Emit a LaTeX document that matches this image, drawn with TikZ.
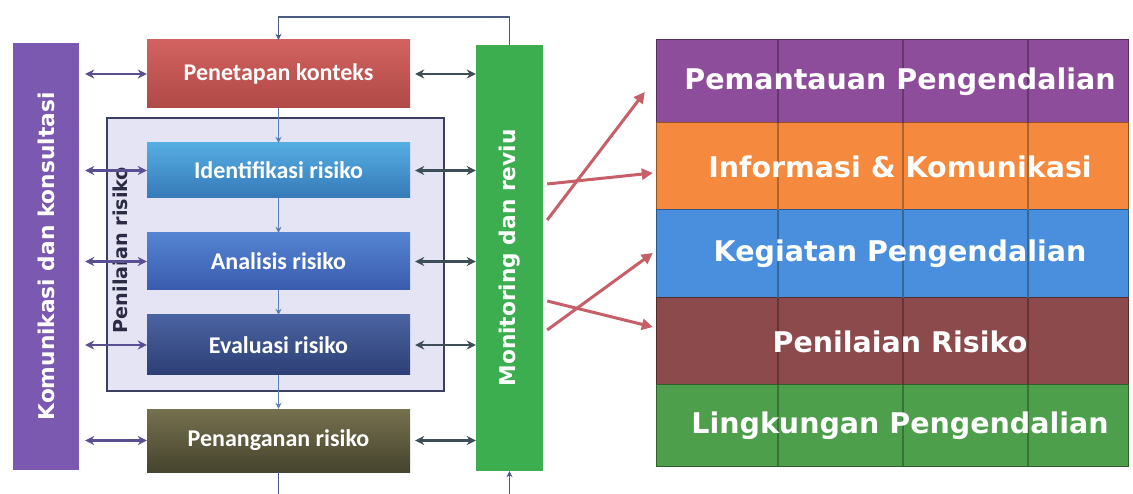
\documentclass[tikz,border=0pt]{standalone}
\usepackage{fontspec}
\setmainfont{Carlito}
\newfontfamily\dejavu{DejaVu Sans}
\usetikzlibrary{arrows.meta,calc}
\pgfdeclarelayer{bandbg}
\pgfdeclarelayer{divlayer}
\pgfsetlayers{bandbg,divlayer,main}
\definecolor{purpbar}{HTML}{7B59B0}
\definecolor{greenbar}{HTML}{3DAE50}
\definecolor{framefill}{HTML}{E4E4F4}
\definecolor{framec}{HTML}{3C4060}
\definecolor{flowc}{HTML}{5B7FB5}
\definecolor{topc}{HTML}{4A5A80}
\definecolor{leftc}{HTML}{5B4F94}
\definecolor{rightc}{HTML}{3E4E58}
\definecolor{redarr}{HTML}{C75F69}
\definecolor{darktext}{HTML}{2B2B45}
\definecolor{bandA}{HTML}{8D4D9A}
\definecolor{bandB}{HTML}{F58A3E}
\definecolor{bandC}{HTML}{4A8FDD}
\definecolor{bandD}{HTML}{8C4A4C}
\definecolor{bandE}{HTML}{4D9F4B}
\definecolor{pkTop}{HTML}{D2625F}
\definecolor{pkBot}{HTML}{B04946}
\definecolor{idTop}{HTML}{55AEE2}
\definecolor{idBot}{HTML}{3579B8}
\definecolor{anTop}{HTML}{5484D2}
\definecolor{anBot}{HTML}{3A5BAE}
\definecolor{evTop}{HTML}{4A63A2}
\definecolor{evBot}{HTML}{2D3F75}
\definecolor{pnTop}{HTML}{75714E}
\definecolor{pnBot}{HTML}{46432E}
\begin{document}
\begin{tikzpicture}[x=1pt,y=-1pt,
  stepbox/.style={draw=none, minimum width=263pt, inner sep=0pt, text=white,
    font=\bfseries\fontsize{24}{28}\selectfont},
  sidebar/.style={rotate=90, minimum width=427pt, minimum height=66pt, inner sep=0pt,
    text=white, font=\dejavu\bfseries\fontsize{21.7}{26}\selectfont},
  linkL/.style={draw=leftc, line width=2.6pt, {Stealth[length=9pt,width=9pt]}-{Stealth[length=9pt,width=9pt]}, shorten <=6pt},
  linkR/.style={draw=rightc, line width=2.6pt, {Stealth[length=9pt,width=9pt]}-{Stealth[length=9pt,width=9pt]}, shorten <=5pt},
  flow/.style={draw=flowc, line width=1.3pt, -{Stealth[length=6pt,width=6pt]}},
  loopline/.style={draw=topc, line width=1.5pt},
  band/.style={minimum width=471pt, inner sep=0pt, text=white,
    font=\dejavu\bfseries\fontsize{28.5}{33}\selectfont, execute at begin node=\hspace*{15pt}},
  divider/.style={draw=#1!72!black, line width=1.8pt},
  redarrow/.style={draw=redarr, line width=3pt, -{Triangle[length=11pt,width=11pt]}}
]
\useasboundingbox (0,0) rectangle (1133,494);
\begin{pgfonlayer}{bandbg}
\fill[white] (0,0) rectangle (1133,494);
\end{pgfonlayer}

% side bars
\node[sidebar, fill=purpbar] (kk) at (46,256.5) {Komunikasi dan konsultasi};
\node[sidebar, fill=greenbar, minimum width=426pt, minimum height=67pt] (mr) at (509.5,258) {Monitoring dan reviu};

% risk assessment frame
\node[draw=framec, fill=framefill, line width=1.2pt, minimum width=337pt, minimum height=273pt, inner sep=0pt] (pr) at (275.5,254.5) {};
\node[rotate=90, text=darktext, font=\dejavu\bfseries\fontsize{19.2}{23}\selectfont] (prt) at (120,250) {Penilaian risiko};

% process boxes
\node[stepbox, minimum height=68pt, top color=pkTop, bottom color=pkBot] (pk) at (278.5,74) {Penetapan konteks};
\node[stepbox, minimum height=55pt, top color=idTop, bottom color=idBot] (id) at (278.5,170.5) {Identifikasi risiko};
\node[stepbox, minimum height=57pt, top color=anTop, bottom color=anBot] (an) at (278.5,261.5) {Analisis risiko};
\node[stepbox, minimum height=60pt, top color=evTop, bottom color=evBot] (ev) at (278.5,345) {Evaluasi risiko};
\node[stepbox, minimum height=63pt, top color=pnTop, bottom color=pnBot] (pn) at (278.5,440.5) {Penanganan risiko};

% vertical flow
\draw[flow] (pk.south) -- (id.north);
\draw[flow] (id.south) -- (an.north);
\draw[flow] (an.south) -- (ev.north);
\draw[flow] (ev.south) -- (pn.north);

% feedback loop
\draw[loopline, -{Stealth[length=6pt,width=6pt]}] (mr.east) -- ++(0,-28) -| (pk.north);
\coordinate (bl) at (278.5,494);
\coordinate (br) at (509.5,494);
\draw[loopline] (pn.south) -- (bl);
\draw[loopline, -{Stealth[length=6pt,width=6pt]}] (br) -- (mr.west);

% links to side bars
\foreach \b in {pk,id,an,ev,pn}{
  \draw[linkL] (kk.south |- \b.west) -- (\b.west);
  \draw[linkR] (\b.east) -- (mr.north |- \b.east);
}

% COSO bands (text on main layer, fill and dividers beneath)
\node[band, minimum height=83pt] (p1) at (892.5,81.5) {Pemantauan Pengendalian};
\node[band, minimum height=87pt] (p2) at (892.5,166.5) {Informasi \& Komunikasi};
\node[band, minimum height=88pt] (p3) at (892.5,254) {Kegiatan Pengendalian};
\node[band, minimum height=87pt] (p4) at (892.5,341.5) {Penilaian Risiko};
\node[band, minimum height=81pt] (p5) at (892.5,425.5) {Lingkungan Pengendalian};

\foreach \b/\c in {p1/bandA,p2/bandB,p3/bandC,p4/bandD,p5/bandE}{
  \begin{pgfonlayer}{bandbg}
    \filldraw[fill=\c, draw=\c!60!black, line width=0.8pt] (\b.north west) rectangle (\b.south east);
  \end{pgfonlayer}
  \begin{pgfonlayer}{divlayer}
    \foreach \x in {778,903,1028}{
      \draw[divider=\c] (\b.north -| \x,0) -- (\b.south -| \x,0);
    }
  \end{pgfonlayer}
}

% red arrows
\draw[redarrow] ($(mr.south)+(4,-38)$) -- ($(p1.west)+(-12,10.5)$);
\draw[redarrow] ($(mr.south)+(4,-74)$) -- ($(p2.west)+(-4,6.5)$);
\draw[redarrow] ($(mr.south)+(4,72)$) -- ($(p3.west)+(-4,-1)$);
\draw[redarrow] ($(mr.south)+(4,43)$) -- ($(p4.west)+(-4,-14.5)$);
\end{tikzpicture}
\end{document}
